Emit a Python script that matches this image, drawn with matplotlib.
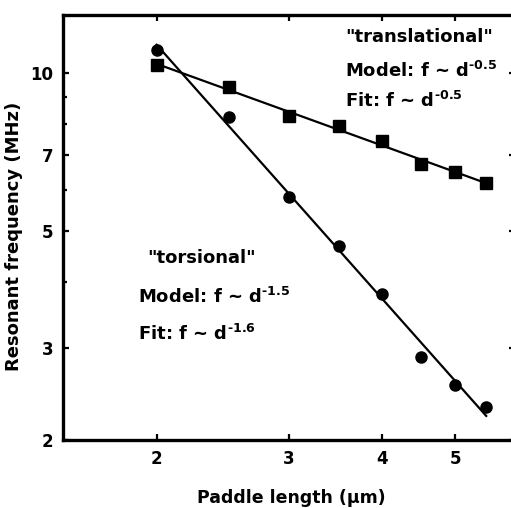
import numpy as np
import matplotlib.pyplot as plt
from matplotlib.ticker import FixedLocator, NullFormatter, NullLocator

plt.rcParams['font.family'] = ['DejaVu Sans']
plt.rcParams['font.weight'] = 'bold'
plt.rcParams['mathtext.default'] = 'bf'

# paddle length (um)
length = [2.0, 2.5, 3.0, 3.5, 4.0, 4.5, 5.0, 5.5]
# resonant frequency (MHz)
f_translational = [10.35, 9.4, 8.28, 7.93, 7.42, 6.71, 6.48, 6.17]
f_torsional = [11.07, 8.25, 5.81, 4.68, 3.79, 2.88, 2.55, 2.31]

x_ticks = [2, 3, 4, 5]
y_major = [2, 3, 5, 7, 10]
y_minor = [4, 6, 8, 9]


def power_fit(x, y):
    k, b = np.polyfit(np.log(x), np.log(y), 1)
    xs = np.array([min(x), max(x)])
    return xs, np.exp(b) * xs ** k


fig = plt.figure(figsize=(5.11, 5.08), dpi=100)
ax = fig.add_axes([0.123, 0.134, 0.884, 0.836])
ax.set_xscale('log')
ax.set_yscale('log')
ax.set_xlim(1.5, 6.0)
ax.set_ylim(2.0, 12.9)

ax.plot(length, f_translational, 's', color='black', ms=8)
ax.plot(length, f_torsional, 'o', color='black', ms=8)
ax.plot(*power_fit(length, f_translational), color='black', lw=1.6)
ax.plot(*power_fit(length, f_torsional), color='black', lw=1.6)

ax.xaxis.set_major_locator(FixedLocator(x_ticks))
ax.xaxis.set_minor_locator(NullLocator())
ax.set_xticklabels([str(t) for t in x_ticks])
ax.xaxis.set_minor_formatter(NullFormatter())
ax.yaxis.set_major_locator(FixedLocator(y_major))
ax.yaxis.set_minor_locator(FixedLocator(y_minor))
ax.set_yticklabels([str(t) for t in y_major])
ax.yaxis.set_minor_formatter(NullFormatter())

ax.tick_params(which='both', direction='in', top=True, right=True,
               width=1.6, labelsize=12)
ax.tick_params(which='major', length=4.5, pad=7)
ax.tick_params(which='minor', length=3)
for s in ax.spines.values():
    s.set_linewidth(2.4)

ax.set_xlabel('Paddle length (μm)', fontsize=12.5, fontweight='bold')
ax.set_ylabel('Resonant frequency (MHz)', fontsize=13, fontweight='bold')
ax.xaxis.set_label_coords(0.505, -0.115)
ax.yaxis.set_label_coords(-0.088, 0.48)

kw = dict(transform=ax.transAxes, fontsize=13, fontweight='bold', va='baseline')
ax.text(0.625, 0.936, '"translational"', **kw)
ax.text(0.625, 0.854, r'Model: f ~ d$^{\text{-0.5}}$', **kw)
ax.text(0.625, 0.784, r'Fit: f ~ d$^{\text{-0.5}}$', **kw)
ax.text(0.186, 0.416, '"torsional"', **kw)
ax.text(0.166, 0.322, r'Model: f ~ d$^{\text{-1.5}}$', **kw)
ax.text(0.166, 0.235, r'Fit: f ~ d$^{\text{-1.6}}$', **kw)

plt.savefig('out.png', dpi=100)
